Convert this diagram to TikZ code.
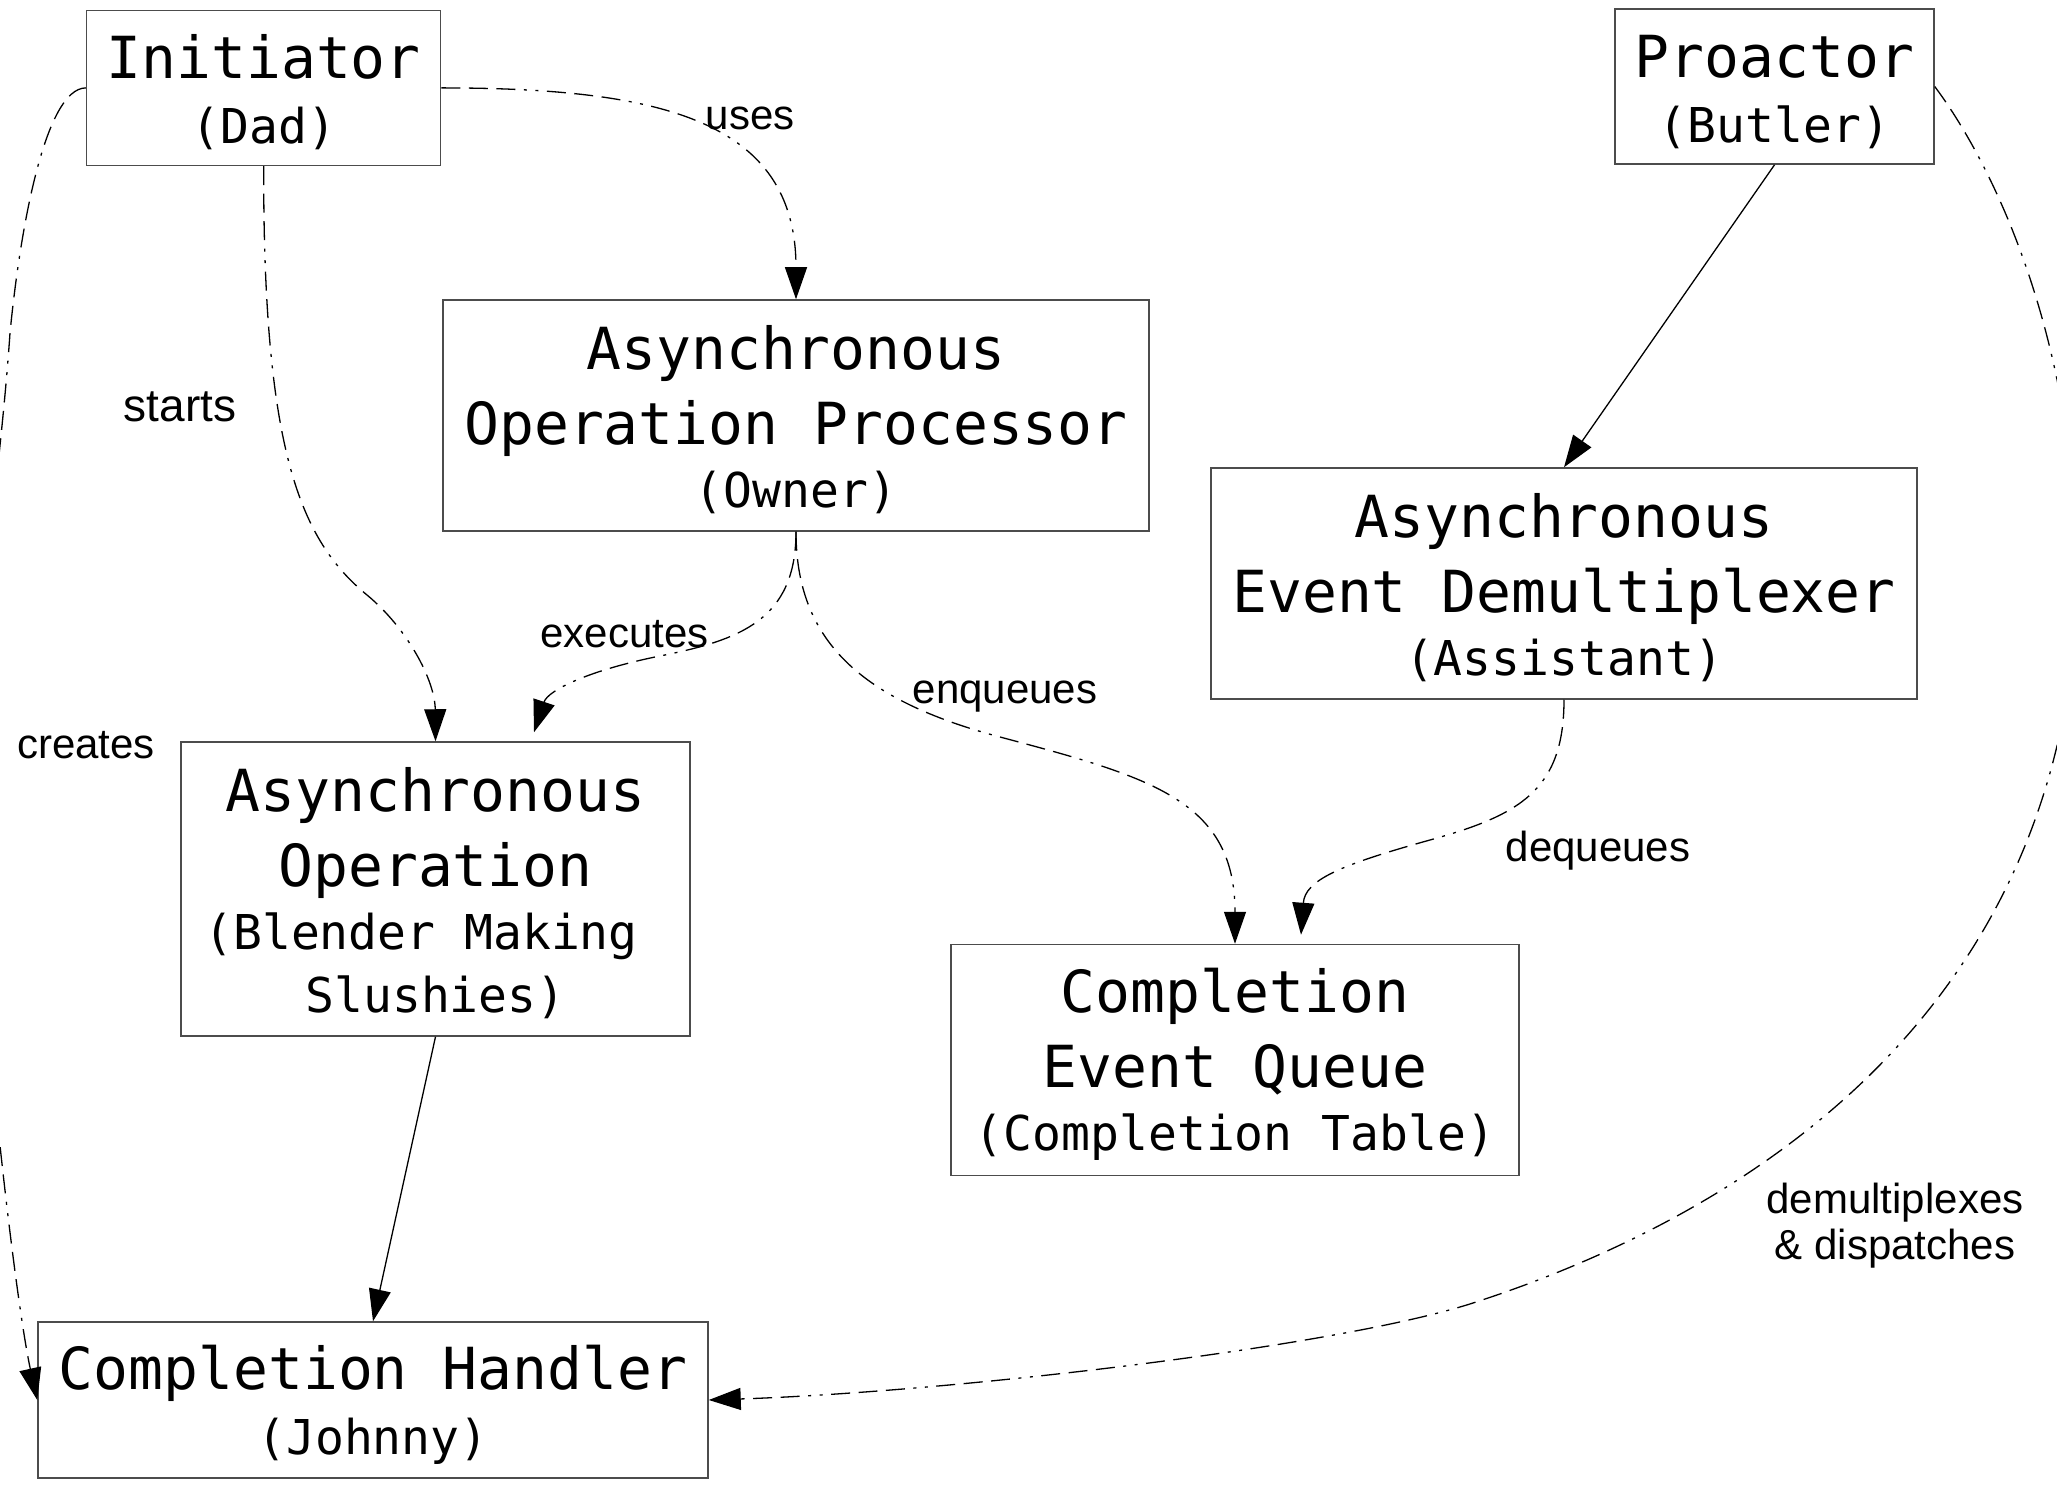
\documentclass[tikz,border=0pt]{standalone}
\usepackage{fontspec}
\newfontfamily\boxfont{DejaVu Sans Mono}
\newfontfamily\lblfont{Liberation Sans}
\usetikzlibrary{arrows.meta}
\newcommand{\bigtxt}{\fontsize{29pt}{37.5pt}\selectfont}
\newcommand{\smtxt}[1]{{\fontsize{24pt}{31.5pt}\selectfont #1}}
\newcommand{\boxtopstrut}{\rule{0pt}{26.5pt}}
\begin{document}
\begin{tikzpicture}[x=0.5pt,y=-0.5pt,
  box/.style={draw=black!70, line width=0.75pt, inner sep=0pt, align=center, font=\boxfont\bigtxt},
  lbl/.style={font=\lblfont\fontsize{21pt}{24pt}\selectfont, inner sep=0pt, align=center},
  conn/.style={line width=0.65pt, -{Triangle[length=16pt,width=11pt]}},
  dd/.style={conn, dash pattern=on 9.5pt off 4.25pt on 9.5pt off 4.25pt on 9.5pt off 4.25pt on 1.5pt off 4.25pt on 1.5pt off 4.25pt},
]
\useasboundingbox (0,0) rectangle (2057,1486);
\fill[white] (0,0) rectangle (2057,1486);

\node[box, minimum width=177pt, minimum height=77.5pt] (init) at (263.7,87.9)
  {\boxtopstrut Initiator\\[-5pt]\smtxt{(Dad)}};
\node[box, minimum width=159.5pt, minimum height=77.5pt] (proactor) at (1774.5,86.6)
  {\boxtopstrut Proactor\\[-5pt]\smtxt{(Butler)}};
\node[box, minimum width=353pt, minimum height=115.5pt] (aop) at (796,415.5)
  {\boxtopstrut Asynchronous\\Operation Processor\\[-6pt]\smtxt{(Owner)}};
\node[box, minimum width=353pt, minimum height=115.5pt] (aed) at (1564,583.5)
  {\boxtopstrut Asynchronous\\Event Demultiplexer\\[-6pt]\smtxt{(Assistant)}};
\node[box, minimum width=254.5pt, minimum height=147pt] (aop2) at (435.5,889)
  {\boxtopstrut Asynchronous\\Operation\\[-6pt]\smtxt{(Blender Making\hphantom{x}}\\[-6pt]\smtxt{Slushies)}};
\node[box, minimum width=284pt, minimum height=115.5pt] (ceq) at (1235,1060)
  {\boxtopstrut Completion\\Event Queue\\[-6pt]\smtxt{(Completion Table)}};
\node[box, minimum width=335pt, minimum height=78pt] (handler) at (373,1400)
  {\boxtopstrut Completion Handler\\[-5pt]\smtxt{(Johnny)}};

\node[lbl] (luses) at (750,118) {uses};
\node[lbl, font=\lblfont\fontsize{23pt}{26pt}\selectfont] (lstarts) at (180,407) {starts};
\node[lbl] (lexec) at (624.5,634) {executes};
\node[lbl] (lenq) at (1005,697) {enqueues};
\node[lbl] (lcreates) at (86,745) {creates};
\node[lbl] (ldeq) at (1598,851) {dequeues};
\node[lbl] (ldemux) at (1895,1226) {demultiplexes\\[-1pt]\& dispatches};

\draw[dd] (init.east) .. controls (660,88) and (796,120) .. (aop.north);
\draw[dd] (init.south) .. controls (263,450) and (300,540) .. (367,595)
  .. controls (407,628) and (435,680) .. (aop2.north);
\draw[dd] (init.west) .. controls (45,88) and (20,230) .. (10,333)
  .. controls (0,480) and (-25,620) .. (-25,780)
  .. controls (-25,960) and (15,1300) .. (handler.west);
\draw[dd] (aop.south) .. controls (796,620) and (740,640) .. (660,656)
  .. controls (590,670) and (548,690) .. ([xshift=49.25pt,yshift=4.5pt]aop2.north);
\draw[dd] (aop.south) .. controls (796,640) and (860,700) .. (1000,737)
  .. controls (1150,777) and (1235,800) .. (ceq.north);
\draw[conn] (proactor.south) -- (aed.north);
\draw[dd] (aed.south) .. controls (1564,790) and (1520,815) .. (1430,840)
  .. controls (1340,865) and (1305,880) .. ([xshift=33pt,yshift=4.5pt]ceq.north);
\draw[dd] (proactor.east) .. controls (1975,140) and (2070,300) .. (2078,560)
  .. controls (2078,1000) and (1760,1210) .. (1473,1303)
  .. controls (1337,1347) and (950,1392) .. (handler.east);
\draw[conn] (aop2.south) -- (handler.north);
\end{tikzpicture}
\end{document}
